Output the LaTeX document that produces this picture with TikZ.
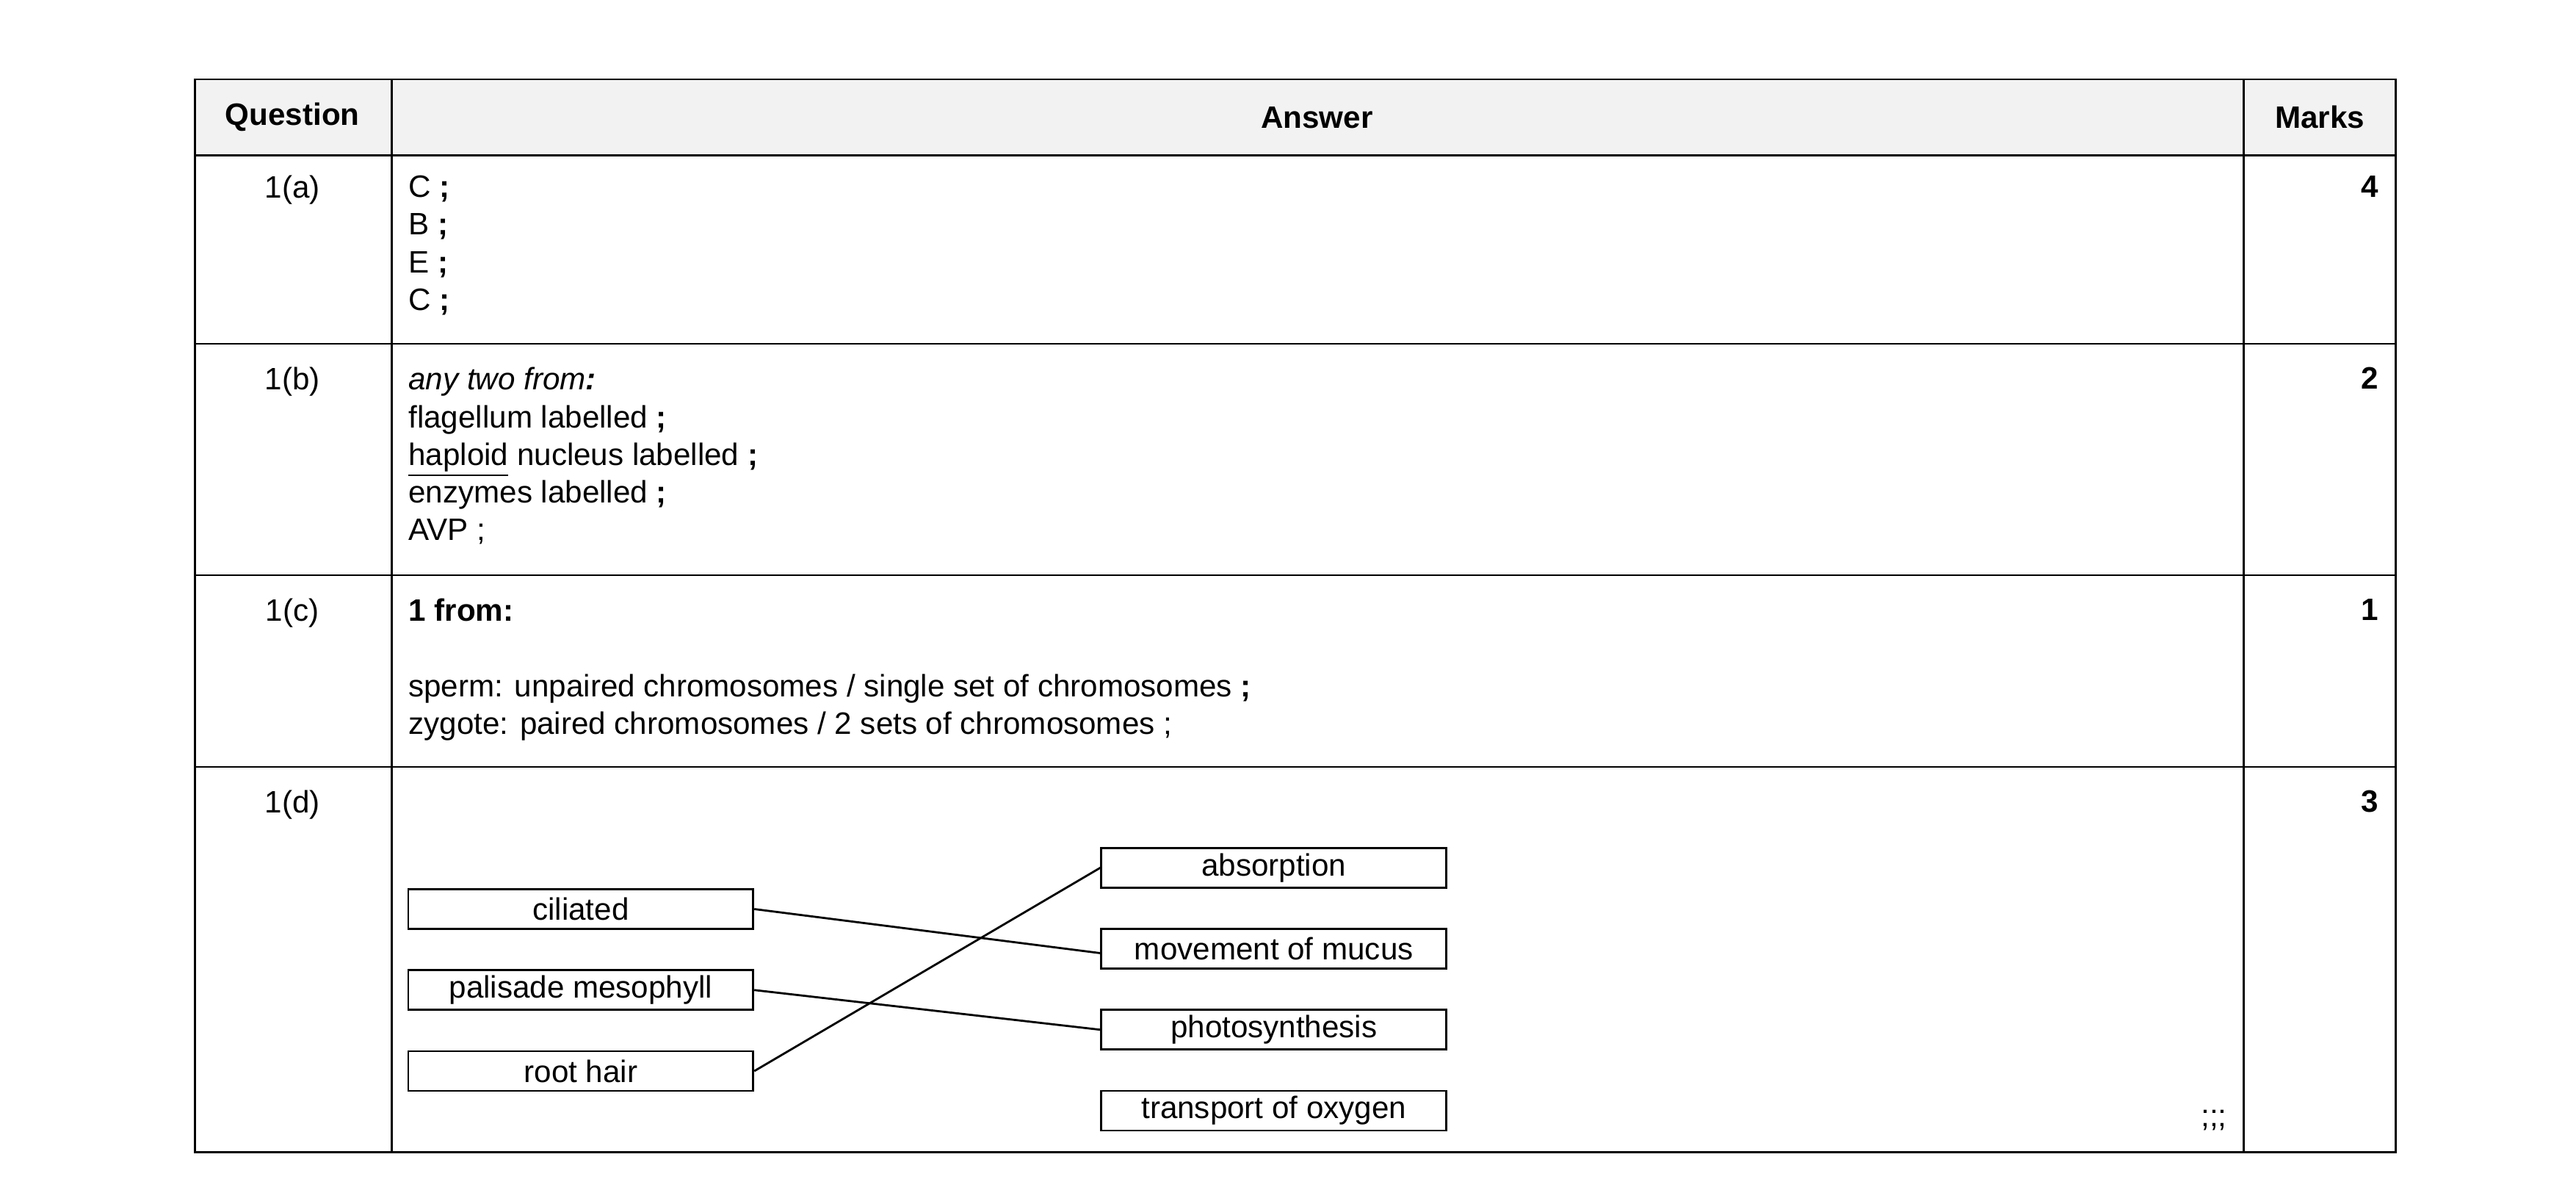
\documentclass[tikz,border=0pt]{standalone}
\usepackage{fontspec}
\setmainfont{Liberation Sans}
\usetikzlibrary{positioning}
\tikzset{
  cell/.style={anchor=north west,align=left,inner sep=0pt,font=\fontsize{12}{14.6}\selectfont},
  qcell/.style={anchor=north,inner sep=0pt,font=\fontsize{12}{14.6}\selectfont},
  mcell/.style={anchor=north east,inner sep=0pt,font=\fontsize{12}{14.6}\selectfont\bfseries},
  head/.style={inner sep=0pt,font=\fontsize{12}{14.6}\selectfont\bfseries},
  cellbox/.style={draw,thick,minimum width=4.7cm,minimum height=0.54cm,inner sep=0pt,
    font=\fontsize{12}{14.6}\selectfont},
  link/.style={thick},
}
\begin{document}
\begin{tikzpicture}[x=0.0225cm,y=-0.0225cm]
  \useasboundingbox (0,0) rectangle (1559.1,728);
  % table frame
  \fill[black!5] (118,48) rectangle (1450,94);
  \draw[thick] (118,48) rectangle (1450,697);
  \foreach \yy in {94,208,348,464} \draw[thick] (118,\yy) -- (1450,\yy);
  \foreach \xx in {237,1358} \draw[thick] (\xx,48) -- (\xx,697);
  % header
  \node[head] (hq) at (177,71) {Question};
  \node[head] (ha) at (797,71) {Answer};
  \node[head] (hm) at (1404,71) {Marks};
  % row a
  \node[qcell] (qa) at (177,106) {1(a)};
  \node[cell] (aa) at (247,106) {C \textbf{;}\\B \textbf{;}\\E \textbf{;}\\C \textbf{;}};
  \node[mcell] (ma) at (1440,106) {4};
  % row b
  \node[qcell] (qb) at (177,222) {1(b)};
  \node[cell] (ab) at (247,222) {\textit{any two from\textbf{:}}\\flagellum labelled \textbf{;}\\
    \underline{haploid} nucleus labelled \textbf{;}\\enzymes labelled \textbf{;}\\AVP ;};
  \node[mcell] (mb) at (1440,222) {2};
  % row c
  \node[qcell] (qc) at (177,362) {1(c)};
  \node[cell] (ac) at (247,362) {\textbf{1 from:}\\[14.6pt]
    sperm: unpaired chromosomes / single set of chromosomes \textbf{;}\\
    zygote: paired chromosomes / 2 sets of chromosomes ;};
  \node[mcell] (mc) at (1440,362) {1};
  % row d
  \node[qcell] (qd) at (177,478) {1(d)};
  \node[mcell] (md) at (1440,478) {3};
  \node[cellbox] (cil) at (351.5,550) {ciliated};
  \node[cellbox] (pal) at (351.5,599) {palisade mesophyll};
  \node[cellbox] (root) at (351.5,648) {root hair};
  \node[cellbox] (abs) at (771,525) {absorption};
  \node[cellbox] (mov) at (771,574) {movement of mucus};
  \node[cellbox] (pho) at (771,623) {photosynthesis};
  \node[cellbox] (tra) at (771,672) {transport of oxygen};
  \draw[link] (cil.east) -- ([yshift=-0.06cm]mov.west);
  \draw[link] (pal.east) -- (pho.west);
  \draw[link] (root.east) -- (abs.west);
  \node[inner sep=0pt,font=\fontsize{12}{14.6}\selectfont] (ticks) at (1340,678) {;;;};
\end{tikzpicture}
\end{document}
